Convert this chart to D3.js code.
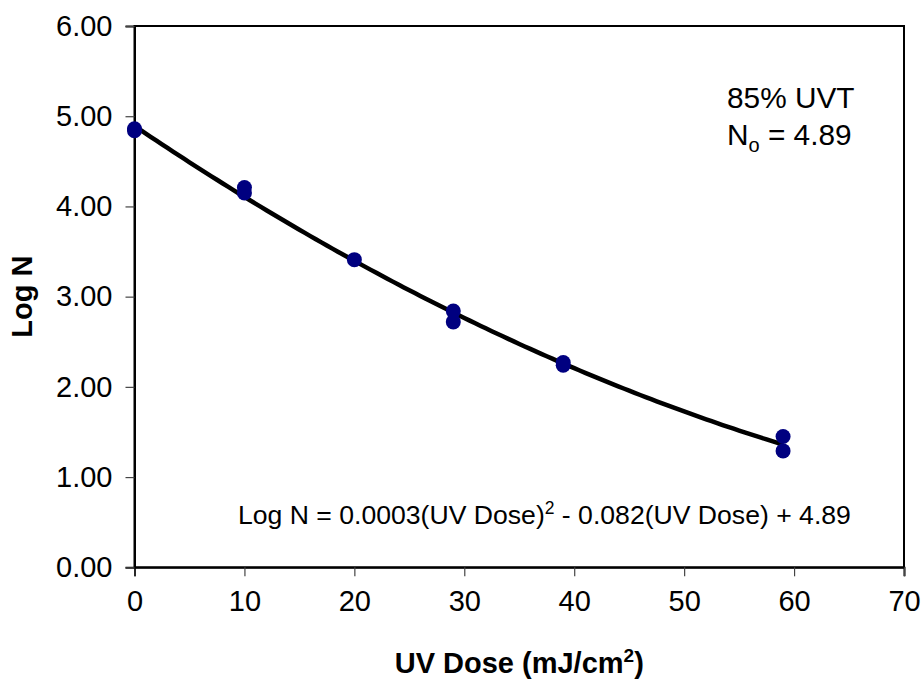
<!DOCTYPE html>
<html>
<head>
<meta charset="utf-8">
<script src="https://d3js.org/d3.v7.min.js"></script>
<style>
  html, body { margin: 0; padding: 0; background: #fff; }
  svg { display: block; font-family: Arial, "Liberation Sans", sans-serif; }
</style>
</head>
<body>
<svg id="chart" width="923" height="681"></svg>
<script>
// ---- data ----
const doseValues = [0, 0, 10, 10, 20, 29, 29, 39, 39, 59, 59];
const logNValues = [4.86, 4.84, 4.21, 4.15, 3.41, 2.84, 2.72, 2.27, 2.24, 1.45, 1.29];
const xTickValues = [0, 10, 20, 30, 40, 50, 60, 70];
const yTickValues = [0, 1, 2, 3, 4, 5, 6];
const noteLines = ["85% UVT", "N", "o", " = 4.89"];
const equationParts = ["Log N = 0.0003(UV Dose)", "2", " - 0.082(UV Dose) + 4.89"];

// ---- layout ----
const L = 134.5, R = 904, T = 26, B = 567.3;
const svg = d3.select("#chart");

const x = d3.scaleLinear().domain([0, 70]).range([L, R]);
const y = d3.scaleLinear().domain([0, 6]).range([B, T]);

// plot border
svg.append("rect")
  .attr("x", L).attr("y", T).attr("width", R - L).attr("height", B - T)
  .attr("fill", "none").attr("stroke", "#000").attr("stroke-width", 2);

// axes
const xAxis = d3.axisBottom(x).tickValues(xTickValues).tickSize(9).tickPadding(14)
  .tickFormat(d3.format("d"));
const yAxis = d3.axisLeft(y).tickValues(yTickValues).tickSize(9).tickPadding(13)
  .tickFormat(d3.format(".2f"));

const gx = svg.append("g").attr("transform", `translate(0,${B})`).call(xAxis);
const gy = svg.append("g").attr("transform", `translate(${L},0)`).call(yAxis);
[gx, gy].forEach(g => {
  g.select(".domain").attr("stroke", "#000").attr("stroke-width", 2);
  g.selectAll(".tick line").attr("stroke", "#444").attr("stroke-width", 1.2);
  g.selectAll(".tick text").attr("fill", "#000")
    .style("font-size", "29px").style("font-family", "Arial, 'Liberation Sans', sans-serif");
});
gx.selectAll(".tick text").attr("dy", "0.71em");

// quadratic least-squares trendline from the data
function fitQuadratic(xs, ys) {
  let S = [0,0,0,0,0], Ty = [0,0,0];
  xs.forEach((xv, i) => {
    for (let k = 0; k < 5; k++) S[k] += Math.pow(xv, k);
    for (let k = 0; k < 3; k++) Ty[k] += ys[i] * Math.pow(xv, k);
  });
  const M = [[S[0],S[1],S[2],Ty[0]],[S[1],S[2],S[3],Ty[1]],[S[2],S[3],S[4],Ty[2]]];
  for (let i = 0; i < 3; i++) {
    let p = i; for (let r = i+1; r < 3; r++) if (Math.abs(M[r][i]) > Math.abs(M[p][i])) p = r;
    [M[i], M[p]] = [M[p], M[i]];
    for (let r = 0; r < 3; r++) if (r !== i) {
      const f = M[r][i] / M[i][i];
      for (let c = i; c < 4; c++) M[r][c] -= f * M[i][c];
    }
  }
  return [M[0][3]/M[0][0], M[1][3]/M[1][1], M[2][3]/M[2][2]];
}
const coef = fitQuadratic(doseValues, logNValues);
const xMax = d3.max(doseValues);
const curve = d3.range(0, xMax + 0.001, 0.5).map(d => [d, coef[0] + coef[1]*d + coef[2]*d*d]);

svg.append("path").datum(curve)
  .attr("fill", "none").attr("stroke", "#000").attr("stroke-width", 4.5)
  .attr("d", d3.line().x(d => x(d[0])).y(d => y(d[1])));

// points
svg.append("g").selectAll("circle").data(doseValues.map((d, i) => [d, logNValues[i]]))
  .join("circle")
  .attr("cx", d => x(d[0])).attr("cy", d => y(d[1])).attr("r", 7.5)
  .attr("fill", "#000080");

// annotations
const ann = svg.append("g").style("font-size", "29.8px").attr("fill", "#000");
ann.append("text").attr("x", 727).attr("y", 107.5).text(noteLines[0]);
const t2 = ann.append("text").attr("x", 727).attr("y", 144.5);
t2.append("tspan").text(noteLines[1]);
t2.append("tspan").attr("dy", 7).style("font-size", "20px").text(noteLines[2]);
t2.append("tspan").attr("dy", -7).text(noteLines[3]);

const eq = svg.append("text").attr("x", 238).attr("y", 524).style("font-size", "26.6px").attr("fill", "#000");
eq.append("tspan").text(equationParts[0]);
eq.append("tspan").attr("dy", -10).style("font-size", "17.5px").text(equationParts[1]);
eq.append("tspan").attr("dy", 10).text(equationParts[2]);

// axis titles
const xt = svg.append("text").attr("x", (L + R) / 2).attr("y", 673).attr("text-anchor", "middle")
  .style("font-size", "29px").style("font-weight", "bold");
xt.append("tspan").text("UV Dose (mJ/cm");
xt.append("tspan").attr("dy", -11).style("font-size", "19px").text("2");
xt.append("tspan").attr("dy", 11).text(")");

svg.append("text").attr("transform", `translate(32,${(T + B) / 2}) rotate(-90)`)
  .attr("text-anchor", "middle").style("font-size", "29px").style("font-weight", "bold")
  .text("Log N");
</script>
</body>
</html>
